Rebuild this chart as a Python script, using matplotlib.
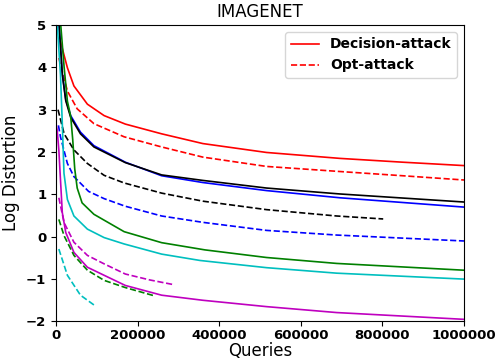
#!/usr/bin/env python

import matplotlib
matplotlib.use("Agg")
import matplotlib.pyplot as plt

# queries / log distortion
dec_red_q = [11000, 28000, 44000, 77000, 118000, 170000, 259000, 360000, 516000, 696000, 850000, 1000000]
dec_red_v = [4.61, 3.99, 3.56, 3.13, 2.86, 2.66, 2.43, 2.2, 1.99, 1.85, 1.76, 1.68]

opt_red_q = [7000, 28000, 52000, 93000, 167000, 259000, 360000, 516000, 696000, 850000, 1000000]
opt_red_v = [4.22, 3.44, 3.02, 2.67, 2.36, 2.12, 1.88, 1.66, 1.54, 1.44, 1.34]

dec_black_q = [7000, 15500, 24000, 36000, 60000, 93000, 170000, 259000, 360000, 516000, 696000, 1000000]
dec_black_v = [5.1, 3.83, 3.21, 2.82, 2.43, 2.12, 1.75, 1.46, 1.33, 1.15, 1.01, 0.82]

dec_blue_q = [7000, 15500, 24000, 36000, 60000, 93000, 170000, 259000, 360000, 516000, 696000, 1000000]
dec_blue_v = [5.1, 3.85, 3.24, 2.86, 2.47, 2.15, 1.76, 1.44, 1.28, 1.09, 0.92, 0.70]

opt_black_q = [5000, 20000, 44000, 77000, 118000, 167000, 259000, 360000, 516000, 688000, 802000]
opt_black_v = [3.0, 2.43, 2.05, 1.73, 1.45, 1.27, 1.03, 0.84, 0.64, 0.49, 0.42]

opt_blue_q = [6000, 11000, 28000, 44000, 80000, 118000, 170000, 259000, 360000, 516000, 688000, 1000000]
opt_blue_v = [2.63, 2.36, 1.73, 1.42, 1.07, 0.9, 0.72, 0.49, 0.34, 0.15, 0.04, -0.1]

dec_green_q = [10000, 20000, 28000, 36000, 41000, 46000, 52000, 64000, 93000, 167000, 259000, 365000, 516000, 688000, 1000000]
dec_green_v = [5.2, 4.0, 3.2, 2.85, 2.3, 1.6, 1.15, 0.8, 0.53, 0.12, -0.14, -0.31, -0.49, -0.63, -0.79]

dec_cyan_q = [2000, 11000, 15500, 19600, 28000, 44000, 77000, 118000, 167000, 259000, 353000, 516000, 688000, 1000000]
dec_cyan_v = [5.2, 3.83, 2.67, 1.5, 0.88, 0.49, 0.18, -0.02, -0.17, -0.41, -0.56, -0.73, -0.86, -1.0]

dec_mag_q = [0, 3000, 7000, 11000, 15500, 24000, 44000, 77000, 118000, 170000, 259000, 360000, 516000, 688000, 1000000]
dec_mag_v = [2.67, 2.51, 2.05, 1.35, 0.57, 0.1, -0.37, -0.72, -0.91, -1.15, -1.38, -1.5, -1.65, -1.79, -1.95]

opt_mag_q = [7000, 20000, 44000, 77000, 118000, 170000, 230000, 288000]
opt_mag_v = [0.92, 0.33, -0.13, -0.44, -0.64, -0.88, -1.02, -1.13]

opt_green_q = [7000, 20000, 44000, 77000, 118000, 170000, 243000]
opt_green_v = [0.41, 0.02, -0.44, -0.79, -1.03, -1.2, -1.4]

opt_cyan_q = [7000, 28000, 60000, 93000]
opt_cyan_v = [-0.29, -0.91, -1.38, -1.61]


def main():
    fig, ax = plt.subplots(figsize=(4.98, 3.62), dpi=100)
    fig.subplots_adjust(left=0.1124, right=0.9317, bottom=0.112, top=0.931)

    lw = 1.2
    ax.plot(dec_red_q, dec_red_v, "r-", lw=lw, label="Decision-attack")
    ax.plot(opt_red_q, opt_red_v, "r--", lw=lw, label="Opt-attack")
    ax.plot(dec_blue_q, dec_blue_v, "b-", lw=lw)
    ax.plot(dec_black_q, dec_black_v, "k-", lw=lw)
    ax.plot(opt_black_q, opt_black_v, "k--", lw=lw)
    ax.plot(opt_blue_q, opt_blue_v, "b--", lw=lw)
    ax.plot(dec_green_q, dec_green_v, "g-", lw=lw)
    ax.plot(dec_cyan_q, dec_cyan_v, "c-", lw=lw)
    ax.plot(dec_mag_q, dec_mag_v, "m-", lw=lw)
    ax.plot(opt_mag_q, opt_mag_v, "m--", lw=lw)
    ax.plot(opt_green_q, opt_green_v, "g--", lw=lw)
    ax.plot(opt_cyan_q, opt_cyan_v, "c--", lw=lw)

    ax.set_xlim(0, 1000000)
    ax.set_ylim(-2, 5)
    ax.set_xticks([0, 200000, 400000, 600000, 800000, 1000000])
    ax.ticklabel_format(style="plain", axis="x")
    ax.tick_params(axis="x", pad=2)
    for lab in ax.get_xticklabels() + ax.get_yticklabels():
        lab.set_fontweight("bold")
        lab.set_fontsize(9.5)

    ax.set_title("IMAGENET", fontsize=12)
    ax.set_xlabel("Queries", fontsize=12, labelpad=0)
    ax.set_ylabel("Log Distortion", fontsize=12)
    ax.legend(loc="upper right", prop={"weight": "bold", "size": 10})

    plt.savefig("out.png", dpi=100)


if __name__ == "__main__":
    main()
